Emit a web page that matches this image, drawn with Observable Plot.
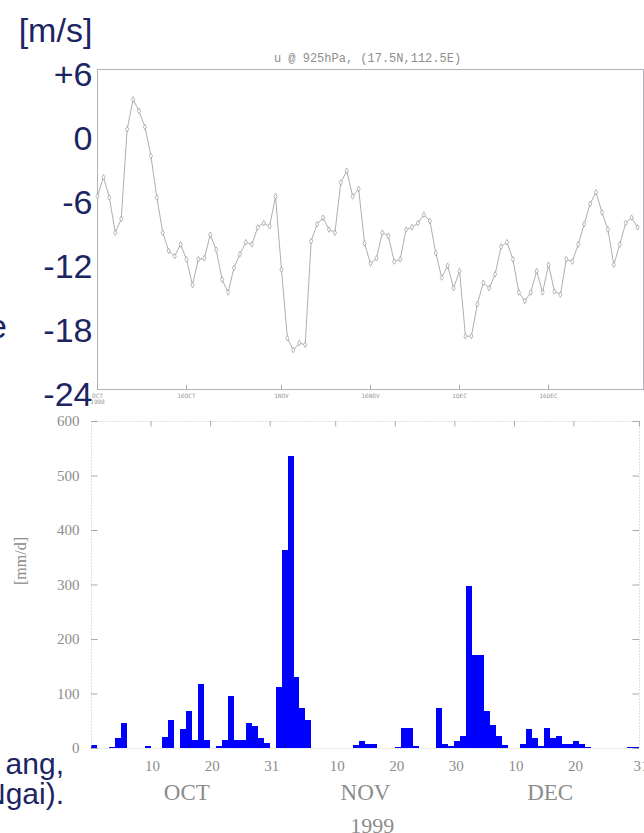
<!DOCTYPE html>
<html><head><meta charset="utf-8">
<script src="https://cdn.jsdelivr.net/npm/d3@7"></script>
<script src="https://cdn.jsdelivr.net/npm/@observablehq/plot@0.6"></script>
<style>
body{margin:0;background:#fff;}
#wrap{position:relative;width:644px;height:833px;overflow:hidden;background:#fff;}
#top,#bot{position:absolute;left:0;}
#top{top:0}
#bot{top:400px}
.frag{position:absolute;font-family:"Liberation Sans",Arial,sans-serif;font-size:34px;color:#1c2461;white-space:nowrap;text-align:right;line-height:1;}
.frag.sm{font-size:30px;}
g[aria-label="spaced"] text{letter-spacing:3px;}
g[aria-label="spaced-wide"] text{letter-spacing:4px;}
g[aria-label="title"] text{letter-spacing:4.3px;}
g[aria-label="tiny"] text{letter-spacing:1px;}
</style></head>
<body>
<div id="wrap">
  <div id="top"></div>
  <div id="bot"></div>
  <div class="frag" style="right:637px;top:309px;">e</div>
  <div class="frag sm" style="right:580px;top:749px;">ang,</div>
  <div class="frag sm" style="right:580px;top:779px;">Ngai).</div>
</div>
<script>
// ---- data: zonal wind u at 925 hPa, daily from 1 Oct 1999 (day index 0..91)
const windDays = d3.range(92);
const uWind = [
  -5.9, -4.1, -6.0, -9.3, -8.0, 0.4, 3.2, 2.1, 0.6, -2.1,
  -6.0, -9.3, -11.0, -11.5, -10.4, -11.8, -14.2, -11.8, -11.7, -9.5,
  -10.9, -13.7, -14.9, -12.6, -11.3, -10.2, -10.4, -8.8, -8.4, -8.7,
  -5.9, -12.75, -19.2, -20.3, -19.65, -19.8, -10.1, -8.5, -7.9, -9.0,
  -9.3, -4.6, -3.5, -5.9, -5.2, -10.3, -12.2, -11.7, -9.3, -9.6,
  -12.0, -11.8, -9.0, -8.8, -8.4, -7.6, -8.2, -11.2, -13.5, -12.4,
  -14.5, -12.9, -19.0, -19.0, -16.0, -14.0, -14.5, -13.2, -10.6, -10.2,
  -11.8, -14.9, -15.7, -14.9, -12.9, -14.9, -12.3, -14.8, -15.1, -11.8,
  -12.0, -10.4, -8.5, -6.6, -5.5, -7.4, -9.0, -12.3, -10.4, -8.4,
  -7.9, -8.8
];
const uTitle = "u @ 925hPa, (17.5N,112.5E)";
const uUnit = "[m/s]";
const uYTicks = [6, 0, -6, -12, -18, -24];
const uYLabels = ["+6", "0", "-6", "-12", "-18", "-24"];
const uXTicks = [0, 15, 31, 46, 61, 76];
const uXLabels = ["OCT\n1999", "16OCT", "1NOV", "16NOV", "1DEC", "16DEC"];

// ---- data: daily rainfall [mm/d], day number 1..92 (1 = 1 Oct 1999)
const rainDays = d3.range(1, 93);
const rain = [
  5, 0, 0, 2, 18, 46, 0, 0, 0, 3,
  0, 0, 20, 51, 0, 35, 68, 14, 117, 14,
  0, 4, 14, 95, 14, 14, 46, 40, 18, 10,
  0, 112, 363, 535, 130, 73, 51, 0, 0, 0,
  0, 0, 0, 0, 6, 12, 8, 8, 0, 0,
  0, 2, 37, 37, 3, 0, 0, 0, 73, 7,
  4, 12, 22, 297, 170, 170, 68, 42, 22, 5,
  0, 0, 8, 35, 18, 3, 37, 18, 22, 8,
  8, 12, 7, 2, 0, 0, 0, 0, 0, 0,
  1, 1
];
const rainUnit = "[mm/d]";
const rainYTicks = [0, 100, 200, 300, 400, 500, 600];
const rainXTicks = [10, 20, 30, 41, 51, 61, 71, 81, 92];
const rainXLabels = ["10", "20", "31", "10", "20", "30", "10", "20", "31"];
const months = ["OCT", "NOV", "DEC"];
const monthPos = [16, 46, 77];
const yearLabel = "1999";
const yearPos = 46.8;

const uData = windDays.map((d, i) => ({d, u: uWind[i]}));
const rainData = rainDays.map((t, i) => ({t, r: rain[i]}));

const big = {fontFamily: "Liberation Sans, Arial, sans-serif", fontSize: 34, fill: "#1c2461"};
const serif = {fontFamily: "Liberation Serif, DejaVu Serif, serif", fill: "#8c8c8c"};

const topPlot = Plot.plot({
  width: 644, height: 410,
  marginTop: 69, marginBottom: 21, marginLeft: 97, marginRight: 1,
  style: {background: "transparent", overflow: "visible"},
  x: {domain: [0, 92], axis: null},
  y: {domain: [-24, 6], axis: null},
  marks: [
    Plot.frame({stroke: "#b2b2be"}),
    Plot.ruleX(uXTicks, {x: d => d, y1: -24, y2: -23.6, stroke: "#aaa"}),
    Plot.line(uData, {x: "d", y: "u", stroke: "#999", strokeWidth: 0.8}),
    Plot.dot(uData, {x: "d", y: "u", symbol: "diamond", r: 1.7, stroke: "#999", fill: "white", strokeWidth: 0.7}),
    Plot.text(uYTicks, {y: d => d, text: d => uYLabels[uYTicks.indexOf(d)], frameAnchor: "left", dx: -5, dy: 6, textAnchor: "end", ...big}),
    Plot.text([uUnit], {frameAnchor: "top-left", dx: -42, dy: -52, textAnchor: "middle", ...big}),
    Plot.text([uTitle], {frameAnchor: "top", dx: -3, dy: -16, fontFamily: "Liberation Mono, DejaVu Sans Mono, monospace", fontSize: 12, fill: "#8e8e8e", ariaLabel: "title"}),
    Plot.text(uXTicks, {x: d => d, text: d => uXLabels[uXTicks.indexOf(d)], frameAnchor: "bottom", dy: 4, lineAnchor: "top", fontSize: 6, fill: "#999", fontFamily: "DejaVu Sans Mono, monospace", ariaLabel: "tiny"})
  ]
});
document.getElementById("top").appendChild(topPlot);

const botPlot = Plot.plot({
  width: 644, height: 433,
  marginTop: 21, marginBottom: 85, marginLeft: 91, marginRight: 5,
  style: {background: "transparent", overflow: "visible"},
  x: {domain: [0, 92], axis: null},
  y: {domain: [0, 600], axis: null},
  marks: [
    Plot.rect(rainData, {x1: d => d.t - 1, x2: d => d.t, y1: () => 0, y2: "r", fill: "#0000ff", shapeRendering: "crispEdges"}),
    Plot.frame({stroke: "#c4c4c4", strokeDasharray: "1,2"}),
    Plot.ruleY(rainYTicks, {y: d => d, x1: 0, x2: 1.1, stroke: "#aaa"}),
    Plot.ruleY(rainYTicks, {y: d => d, x1: 90.9, x2: 92, stroke: "#aaa"}),
    Plot.ruleX(rainXTicks, {x: d => d, y1: 600, y2: 590, stroke: "#aaa"}),
    Plot.text(rainYTicks, {y: d => d, text: d => String(d), frameAnchor: "left", dx: -12, textAnchor: "end", fontSize: 15, ariaLabel: "spaced", ...serif}),
    Plot.text(rainXTicks, {x: d => d, text: d => rainXLabels[rainXTicks.indexOf(d)], frameAnchor: "bottom", dx: 1.5, dy: 12, lineAnchor: "top", fontSize: 15, ariaLabel: "spaced", ...serif}),
    Plot.text(months, {x: d => monthPos[months.indexOf(d)], text: d => d, frameAnchor: "bottom", dy: 51, fontSize: 23, ...serif}),
    Plot.text([yearLabel], {x: () => yearPos, text: d => d, frameAnchor: "bottom", dx: 2, dy: 84, fontSize: 22, ariaLabel: "spaced-wide", ...serif}),
    Plot.text([rainUnit], {frameAnchor: "left", dx: -71, rotate: -90, fontSize: 16, ariaLabel: "spaced", ...serif})
  ]
});
document.getElementById("bot").appendChild(botPlot);
</script>
</body></html>
